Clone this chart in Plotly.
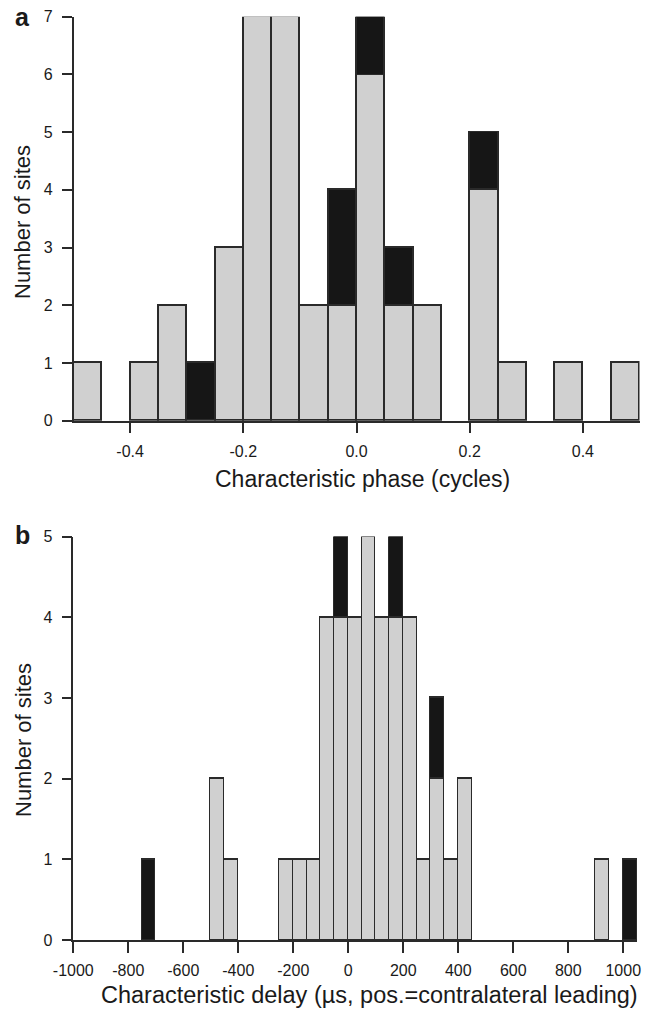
import plotly.graph_objects as go

W, H = 656, 1010

# ---------------- data ----------------
phase_bin_left = [-0.50, -0.45, -0.40, -0.35, -0.30, -0.25, -0.20, -0.15, -0.10, -0.05,
                  0.00, 0.05, 0.10, 0.15, 0.20, 0.25, 0.30, 0.35, 0.40, 0.45]
phase_bin_width = 0.05
phase_gray = [1, 0, 1, 2, 0, 3, 7, 7, 2, 2, 6, 2, 2, 0, 4, 1, 0, 1, 0, 1]
phase_black = [0, 0, 0, 0, 1, 0, 0, 0, 0, 2, 1, 1, 0, 0, 1, 0, 0, 0, 0, 0]

delay_bin_left = [-1000, -950, -900, -850, -800, -750, -700, -650, -600, -550,
                  -500, -450, -400, -350, -300, -250, -200, -150, -100, -50,
                  0, 50, 100, 150, 200, 250, 300, 350, 400, 450,
                  500, 550, 600, 650, 700, 750, 800, 850, 900, 950, 1000]
delay_bin_width = 50
delay_gray = [0, 0, 0, 0, 0, 0, 0, 0, 0, 0,
              2, 1, 0, 0, 0, 1, 1, 1, 4, 4,
              4, 5, 4, 4, 4, 1, 2, 1, 2, 0,
              0, 0, 0, 0, 0, 0, 0, 0, 1, 0, 0]
delay_black = [0, 0, 0, 0, 0, 1, 0, 0, 0, 0,
               0, 0, 0, 0, 0, 0, 0, 0, 0, 1,
               0, 0, 0, 1, 0, 0, 1, 0, 0, 0,
               0, 0, 0, 0, 0, 0, 0, 0, 0, 0, 1]

phase_xticks = [-0.4, -0.2, 0.0, 0.2, 0.4]
phase_xticklabels = ["-0.4", "-0.2", "0.0", "0.2", "0.4"]
phase_yticks = [0, 1, 2, 3, 4, 5, 6, 7]
delay_xticks = [-1000, -800, -600, -400, -200, 0, 200, 400, 600, 800, 1000]
delay_xticklabels = ["-1000", "-800", "-600", "-400", "-200", "0", "200", "400", "600", "800", "1000"]
delay_yticks = [0, 1, 2, 3, 4, 5]

phase_xlabel = "Characteristic phase (cycles)"
delay_xlabel = "Characteristic delay (µs, pos.=contralateral leading)"
ylabel = "Number of sites"

# ---------------- style ----------------
GRAY = "#d0d0d0"
BLACK = "#161616"
EDGE = "#2a2a2a"
TXT = "#1a1a1a"
FONT = "Liberation Sans, Arial, Helvetica, sans-serif"


def px(x):
    return x / W


def py(y):
    return 1 - y / H


def nz(vals):
    return [v if v != 0 else None for v in vals]


fig = go.Figure()


def add_hist(lefts, width, gray, black, xa, ya):
    centers = [l + width / 2 for l in lefts]
    fig.add_trace(go.Bar(x=centers, y=nz(gray), width=width, xaxis=xa, yaxis=ya,
                         marker=dict(color=GRAY, line=dict(color=EDGE, width=1.2)),
                         showlegend=False, hoverinfo="skip"))
    fig.add_trace(go.Bar(x=centers, y=nz(black), width=width, xaxis=xa, yaxis=ya,
                         marker=dict(color=BLACK, line=dict(color=EDGE, width=1.2)),
                         showlegend=False, hoverinfo="skip"))


add_hist(phase_bin_left, phase_bin_width, phase_gray, phase_black, "x", "y")
add_hist(delay_bin_left, delay_bin_width, delay_gray, delay_black, "x2", "y2")

axis_common = dict(showgrid=False, zeroline=False, showline=True, linecolor=EDGE, linewidth=1.5,
                   ticks="outside", tickcolor=EDGE, tickwidth=1.5, automargin=False,
                   tickfont=dict(family=FONT, size=16, color=TXT), fixedrange=True)

fig.update_layout(
    width=W, height=H,
    margin=dict(l=0, r=0, t=0, b=0, autoexpand=False),
    paper_bgcolor="white", plot_bgcolor="white",
    barmode="stack", bargap=0,
    font=dict(family=FONT, color=TXT),
    xaxis=dict(domain=[px(73.5), px(639.5)], anchor="y", range=[-0.5, 0.5],
               tickmode="array", tickvals=phase_xticks, ticktext=phase_xticklabels,
               ticklen=11, ticklabelstandoff=4, **axis_common),
    yaxis=dict(domain=[py(420.7), py(16.7)], anchor="x", range=[0, 7],
               tickmode="array", tickvals=phase_yticks, ticklen=10, ticklabelstandoff=6,
               **axis_common),
    xaxis2=dict(domain=[px(73.3), px(637)], anchor="y2", range=[-1000, 1050],
                tickmode="array", tickvals=delay_xticks, ticktext=delay_xticklabels,
                ticklen=11, ticklabelstandoff=4, **axis_common),
    yaxis2=dict(domain=[py(940), py(536.5)], anchor="x2", range=[0, 5],
                tickmode="array", tickvals=delay_yticks, ticklen=10, ticklabelstandoff=6,
                **axis_common),
)

ann = []


def text(x, y, s, size, bold=False, angle=0):
    ann.append(dict(x=px(x), y=py(y), xref="paper", yref="paper", text=("<b>%s</b>" % s) if bold else s,
                    showarrow=False, xanchor="center", yanchor="middle", textangle=angle,
                    font=dict(family=FONT, size=size, color=TXT)))


text(22, 17, "a", 25, bold=True)
text(22, 535, "b", 25, bold=True)
text(23, 222, ylabel, 22, angle=-90)
text(23, 740, ylabel, 22, angle=-90)
text(362, 479, phase_xlabel, 23)
text(369, 995, delay_xlabel, 23.5)

fig.update_layout(annotations=ann)

fig.write_html("out.html")
